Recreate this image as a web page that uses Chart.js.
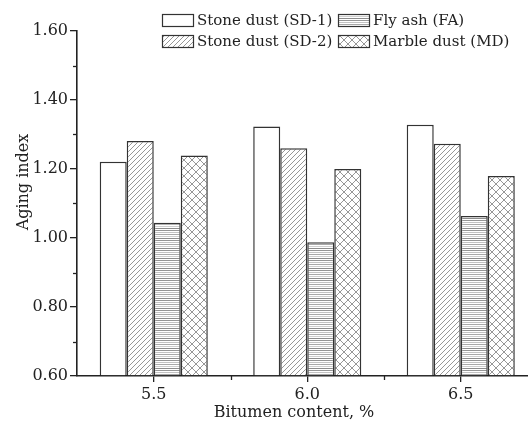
<!DOCTYPE html>
<html>
<head>
<meta charset="utf-8">
<script src="https://cdn.jsdelivr.net/npm/chart.js@4"></script>
<style>
html, body { margin: 0; padding: 0; background: #fff; overflow: hidden; }
#wrap { width: 528px; height: 425px; overflow: hidden; }
canvas { display: block; }
</style>
</head>
<body>
<div id="wrap"><canvas id="agingChart" width="540" height="425"></canvas></div>
<script>
// data
const categories = ['5.5', '6.0', '6.5'];
const seriesNames = ['Stone dust (SD-1)', 'Stone dust (SD-2)', 'Fly ash (FA)', 'Marble dust (MD)'];
const sd1Values = [1.221, 1.323, 1.328];
const sd2Values = [1.281, 1.260, 1.273];
const faValues = [1.044, 0.988, 1.064];
const mdValues = [1.239, 1.200, 1.180];
const yTicks = [0.60, 0.80, 1.00, 1.20, 1.40, 1.60];
const yMinorTicks = [0.70, 0.90, 1.10, 1.30, 1.50];
const xTitle = 'Bitumen content, %';
const yTitle = 'Aging index';

const FONT = '"DejaVu Serif", serif';
const INK = '#222';

// fill patterns for the bars
function makePattern(kind) {
    const c = document.createElement('canvas');
    const g = c.getContext('2d');
    if (kind === 'plain') {
        return '#ffffff';
    }
    if (kind === 'diag') {
        const s = 5;
        c.width = s; c.height = s;
        g.fillStyle = '#fff'; g.fillRect(0, 0, s, s);
        g.strokeStyle = '#7c7c7c'; g.lineWidth = 0.8;
        [[0, s, s, 0], [-1, 1, 1, -1], [s - 1, s + 1, s + 1, s - 1]].forEach(l => {
            g.beginPath(); g.moveTo(l[0], l[1]); g.lineTo(l[2], l[3]); g.stroke();
        });
    } else if (kind === 'cross') {
        const s = 8;
        c.width = s; c.height = s;
        g.fillStyle = '#fff'; g.fillRect(0, 0, s, s);
        g.strokeStyle = '#7c7c7c'; g.lineWidth = 0.8;
        g.beginPath(); g.moveTo(0, 0); g.lineTo(s, s); g.stroke();
        g.beginPath(); g.moveTo(0, s); g.lineTo(s, 0); g.stroke();
    } else if (kind === 'horiz') {
        c.width = 4; c.height = 10;
        g.fillStyle = '#fff'; g.fillRect(0, 0, 4, 10);
        const shades = ['#959595', '#c2c2c2', '#a8a8a8', '#cfcfcf', '#8c8c8c'];
        shades.forEach((col, i) => {
            g.fillStyle = col; g.fillRect(0, i * 2, 4, 1);
        });
    }
    return g.createPattern(c, 'repeat');
}

const fills = [makePattern('plain'), makePattern('diag'), makePattern('horiz'), makePattern('cross')];
const seriesValues = [sd1Values, sd2Values, faValues, mdValues];

const datasets = seriesNames.map((name, i) => ({
    label: name,
    data: seriesValues[i],
    backgroundColor: fills[i],
    borderColor: '#333',
    borderWidth: 1.5,
    base: yTicks[0],
    categoryPercentage: 0.704,
    barPercentage: 1.0
}));

// minor ticks, axis titles and the two-column legend
const extrasPlugin = {
    id: 'extras',
    afterDraw(chart) {
        const { ctx, scales: { x, y } } = chart;
        ctx.save();
        ctx.strokeStyle = INK;
        ctx.lineWidth = 1.3;
        yMinorTicks.forEach(v => {
            const py = Math.round(y.getPixelForValue(v)) + 0.5;
            ctx.beginPath(); ctx.moveTo(x.left - 4, py); ctx.lineTo(x.left, py); ctx.stroke();
        });
        for (let i = 0; i < categories.length - 1; i++) {
            const px = Math.round((x.getPixelForValue(i) + x.getPixelForValue(i + 1)) / 2) + 0.5;
            ctx.beginPath(); ctx.moveTo(px, y.bottom); ctx.lineTo(px, y.bottom + 4); ctx.stroke();
        }

        ctx.fillStyle = INK;
        ctx.font = '16px ' + FONT;
        ctx.textAlign = 'center';
        ctx.textBaseline = 'alphabetic';
        ctx.fillText(xTitle, 294, 417);
        ctx.save();
        ctx.translate(28, 182);
        ctx.rotate(-Math.PI / 2);
        ctx.fillText(yTitle, 0, 0);
        ctx.restore();

        // legend: SD-1 / SD-2 in first column, FA / MD in second
        const slots = [[162, 14], [162, 35], [338, 14], [338, 35]];
        ctx.font = '15px ' + FONT;
        ctx.textAlign = 'left';
        ctx.textBaseline = 'middle';
        chart.data.datasets.forEach((ds, i) => {
            const [bx, by] = slots[i];
            ctx.fillStyle = ds.backgroundColor;
            ctx.fillRect(bx, by, 31, 12);
            ctx.strokeStyle = '#333';
            ctx.lineWidth = 1.2;
            ctx.strokeRect(bx + 0.5, by + 0.5, 31, 12);
            ctx.fillStyle = INK;
            ctx.fillText(ds.label, bx + 35, by + 7);
        });
        ctx.restore();
    }
};

new Chart(document.getElementById('agingChart'), {
    type: 'bar',
    data: { labels: categories, datasets: datasets },
    options: {
        responsive: false,
        animation: false,
        layout: { padding: { top: 31, right: 2.5, left: 0, bottom: 0 } },
        plugins: {
            legend: { display: false },
            tooltip: { enabled: false }
        },
        scales: {
            x: {
                z: 1,
                grid: { display: true, drawOnChartArea: false, offset: false, tickLength: 6, color: INK, lineWidth: 1.3 },
                border: { display: true, color: INK, width: 1.6 },
                ticks: { color: INK, font: { family: FONT, size: 16 }, padding: 3, maxRotation: 0 },
                afterFit(scale) { scale.height = 49; }
            },
            y: {
                z: 1,
                min: yTicks[0],
                max: yTicks[yTicks.length - 1],
                afterBuildTicks(scale) { scale.ticks = yTicks.map(v => ({ value: v })); },
                grid: { display: true, drawOnChartArea: false, tickLength: 7, color: INK, lineWidth: 1.3 },
                border: { display: true, color: INK, width: 1.6 },
                ticks: {
                    color: INK,
                    font: { family: FONT, size: 16 },
                    padding: 2,
                    callback: v => Number(v).toFixed(2)
                },
                afterFit(scale) { scale.width = 77; }
            }
        }
    },
    plugins: [extrasPlugin]
});
</script>
</body>
</html>
